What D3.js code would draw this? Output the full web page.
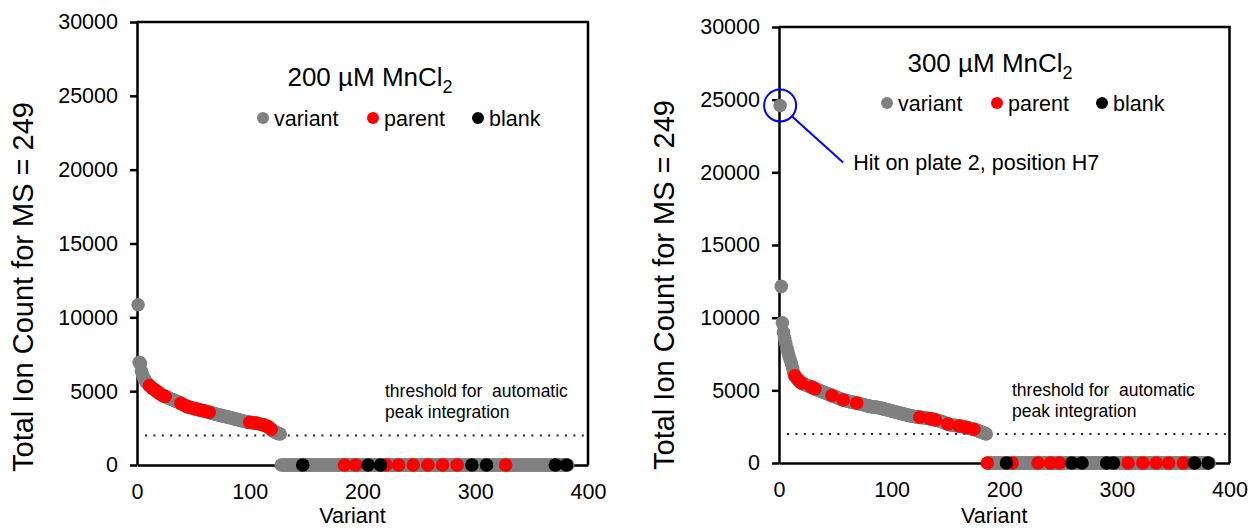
<!DOCTYPE html>
<html>
<head>
<meta charset="utf-8">
<script src="https://cdn.jsdelivr.net/npm/d3@7"></script>
<style>
  body { margin: 0; background: #fff; }
  svg text { font-family: "Liberation Sans", Arial, sans-serif; fill: #000; }
</style>
</head>
<body>
<svg id="chart" width="1252" height="529"></svg>
<script>
// ---- data ----
const variantTicks = [0, 100, 200, 300, 400];
const ionTicks = [0, 5000, 10000, 15000, 20000, 25000, 30000];
const threshold = 2000;
const legendItems = ["variant", "parent", "blank"];

// total ion count per variant (sorted, variant 1 first), 200 uM MnCl2
const signal200 = [
  10850, 6950, 6880, 6350, 6100, 5900, 5760, 5650, 5550, 5450,
  5380, 5310, 5240, 5180, 5130, 5080, 5020, 4960, 4900, 4850,
  4790, 4740, 4700, 4670, 4640, 4610, 4580, 4540, 4500, 4470,
  4440, 4410, 4380, 4340, 4310, 4280, 4250, 4210, 4170, 4130,
  4090, 4050, 4010, 3970, 3940, 3920, 3900, 3880, 3860, 3840,
  3820, 3800, 3780, 3760, 3740, 3720, 3700, 3690, 3670, 3650,
  3630, 3610, 3590, 3570, 3550, 3520, 3500, 3480, 3460, 3440,
  3420, 3400, 3380, 3360, 3340, 3320, 3310, 3290, 3270, 3260,
  3240, 3220, 3200, 3180, 3160, 3140, 3120, 3100, 3080, 3060,
  3040, 3020, 3000, 2980, 2960, 2940, 2920, 2910, 2900, 2890,
  2880, 2870, 2860, 2850, 2840, 2830, 2820, 2800, 2780, 2760,
  2740, 2720, 2700, 2670, 2640, 2600, 2550, 2490, 2420, 2350,
  2290, 2240, 2200, 2170, 2140, 2120, 2100,
  0,0,0,0,0, 0,0,0,0,0, 0,0,0,0,0, 0,0,0,0,0, 0,0,0,0,0,
  0,0,0,0,0, 0,0,0,0,0, 0,0,0,0,0, 0,0,0,0,0, 0,0,0,0,0,
  0,0,0,0,0, 0,0,0,0,0, 0,0,0,0,0, 0,0,0,0,0, 0,0,0,0,0,
  0,0,0,0,0, 0,0,0,0,0, 0,0,0,0,0, 0,0,0,0,0, 0,0,0,0,0,
  0,0,0,0,0, 0,0,0,0,0, 0,0,0,0,0, 0,0,0,0,0, 0,0,0,0,0,
  0,0,0,0,0, 0,0,0,0,0, 0,0,0,0,0, 0,0,0,0,0, 0,0,0,0,0,
  0,0,0,0,0, 0,0,0,0,0, 0,0,0,0,0, 0,0,0,0,0, 0,0,0,0,0,
  0,0,0,0,0, 0,0,0,0,0, 0,0,0,0,0, 0,0,0,0,0, 0,0,0,0,0,
  0,0,0,0,0, 0,0,0,0,0, 0,0,0,0,0, 0,0,0,0,0, 0,0,0,0,0,
  0,0,0,0,0, 0,0,0,0,0, 0,0,0,0,0, 0,0,0,0,0, 0,0,0,0,0,
  0,0,0,0,0
];
const parent200 = [11, 14, 17, 20, 23, 25, 39, 42, 45, 48, 52, 55, 58, 61, 64,
  100, 103, 106, 112, 116, 119, 184, 194, 221, 232, 245, 258, 271, 284, 327];
const blank200 = [147, 205, 216, 297, 310, 371, 381];

// 300 uM MnCl2
const signal300 = [
  24600, 12150, 9650, 9000, 8600, 8250, 7900, 7640, 7350, 7100,
  6850, 6550, 6250, 6000, 5900, 5800, 5720, 5640, 5570, 5500,
  5470, 5430, 5400, 5370, 5340, 5310, 5280, 5250, 5220, 5190,
  5150, 5110, 5070, 5040, 5010, 4980, 4950, 4920, 4890, 4860,
  4830, 4800, 4770, 4740, 4710, 4680, 4640, 4610, 4580, 4550,
  4520, 4490, 4460, 4430, 4400, 4370, 4340, 4320, 4300, 4280,
  4260, 4240, 4220, 4200, 4190, 4170, 4160, 4140, 4130, 4110,
  4090, 4070, 4050, 4030, 4010, 3990, 3970, 3950, 3930, 3910,
  3890, 3880, 3870, 3860, 3850, 3840, 3830, 3810, 3800, 3780,
  3760, 3740, 3720, 3700, 3680, 3660, 3640, 3620, 3600, 3580,
  3560, 3540, 3520, 3500, 3480, 3460, 3440, 3420, 3400, 3380,
  3360, 3340, 3320, 3300, 3280, 3260, 3250, 3230, 3220, 3200,
  3190, 3180, 3170, 3160, 3150, 3140, 3130, 3120, 3110, 3100,
  3090, 3080, 3060, 3050, 3030, 3020, 3000, 2980, 2960, 2940,
  2930, 2910, 2890, 2860, 2830, 2800, 2770, 2740, 2710, 2680,
  2660, 2640, 2620, 2610, 2600, 2590, 2580, 2570, 2560, 2550,
  2540, 2530, 2510, 2490, 2470, 2450, 2430, 2420, 2400, 2380,
  2360, 2340, 2320, 2300, 2270, 2240, 2210, 2180, 2150, 2120,
  2090, 2060, 2030, 2000,
  0,0,0,0,0, 0,0,0,0,0, 0,0,0,0,0, 0,0,0,0,0, 0,0,0,0,0,
  0,0,0,0,0, 0,0,0,0,0, 0,0,0,0,0, 0,0,0,0,0, 0,0,0,0,0,
  0,0,0,0,0, 0,0,0,0,0, 0,0,0,0,0, 0,0,0,0,0, 0,0,0,0,0,
  0,0,0,0,0, 0,0,0,0,0, 0,0,0,0,0, 0,0,0,0,0, 0,0,0,0,0,
  0,0,0,0,0, 0,0,0,0,0, 0,0,0,0,0, 0,0,0,0,0, 0,0,0,0,0,
  0,0,0,0,0, 0,0,0,0,0, 0,0,0,0,0, 0,0,0,0,0, 0,0,0,0,0,
  0,0,0,0,0, 0,0,0,0,0, 0,0,0,0,0, 0,0,0,0,0, 0,0,0,0,0,
  0,0,0,0,0, 0,0,0,0,0, 0,0,0,0,0, 0,0,0,0,0, 0,0,0
];
const parent300 = [14, 17, 20, 29, 32, 47, 57, 69, 125, 134, 139, 150, 160, 166, 173,
  185, 207, 230, 241, 249, 310, 323, 335, 346, 359];
const blank300 = [202, 260, 269, 291, 297, 369, 381];

const colors = { variant: "#808080", parent: "#ff0000", blank: "#000000" };

var svg = d3.select("#chart");

var panels = [
  { conc: "200", signal: signal200, parents: parent200, blanks: blank200,
    left: 137, right: 588, bottom: 465, top: 22,
    titleX: 370, titleY: 86, legendX: 263, legendY: 118,
    yTitleX: 33, yTitleY: 287, thrX: 385 },
  { conc: "300", signal: signal300, parents: parent300, blanks: blank300,
    left: 779, right: 1229.5, bottom: 463, top: 27,
    titleX: 990, titleY: 72, legendX: 887, legendY: 103,
    yTitleX: 674, yTitleY: 285, thrX: 1012, hit: { variant: 1, label: "Hit on plate 2, position H7" } }
];

panels.forEach(drawPanel);

function drawPanel(p) {
  var x = d3.scaleLinear().domain([0, 400]).range([p.left, p.right]);
  var y = d3.scaleLinear().domain([0, 30000]).range([p.bottom, p.top]);
  var g = svg.append("g");

  // frame: top and right edges
  g.append("path")
    .attr("d", "M" + x(0) + "," + y(30000) + "H" + x(400) + "V" + y(0))
    .attr("fill", "none")
    .attr("stroke", "#000")
    .attr("stroke-width", 2.5);

  // threshold line
  g.append("line")
    .attr("x1", x(0) + 8).attr("x2", x(400))
    .attr("y1", y(threshold)).attr("y2", y(threshold))
    .attr("stroke", "#222")
    .attr("stroke-width", 2)
    .attr("stroke-dasharray", "2,6.4");

  g.append("text")
    .attr("x", p.thrX).attr("y", y(threshold) - 38)
    .attr("xml:space", "preserve")
    .style("white-space", "pre")
    .style("font-size", "17.5px")
    .text("threshold for  automatic");
  g.append("text")
    .attr("x", p.thrX).attr("y", y(threshold) - 17)
    .style("font-size", "17.5px")
    .text("peak integration");

  // axes
  var yAxis = g.append("g")
    .attr("transform", "translate(" + x(0) + ",0)")
    .call(d3.axisLeft(y).tickValues(ionTicks).tickFormat(d3.format("d"))
      .tickSize(7).tickSizeOuter(0).tickPadding(12));
  yAxis.selectAll("text").style("font-size", "21.5px");

  var xAxis = g.append("g")
    .attr("transform", "translate(0," + y(0) + ")")
    .call(d3.axisBottom(x).tickValues(variantTicks).tickFormat(d3.format("d"))
      .tickSize(0).tickPadding(19));
  xAxis.selectAll("text").style("font-size", "21.5px");

  [yAxis, xAxis].forEach(function (a) {
    a.select(".domain").attr("stroke", "#000").attr("stroke-width", 2.5);
    a.selectAll(".tick line").attr("stroke", "#000").attr("stroke-width", 2.5);
  });

  // axis titles
  g.append("text")
    .attr("transform", "translate(" + p.yTitleX + "," + p.yTitleY + ") rotate(-90)")
    .style("text-anchor", "middle")
    .style("font-size", "29px")
    .text("Total Ion Count for MS = 249");

  g.append("text")
    .attr("x", (x(0) + x(400)) / 2 - 10)
    .attr("y", 523)
    .style("text-anchor", "middle")
    .style("font-size", "21.5px")
    .text("Variant");

  // points: variants first, then parents, then blanks on top
  var points = p.signal.map(function (v, i) {
    var n = i + 1;
    var kind = p.blanks.indexOf(n) >= 0 ? "blank" : (p.parents.indexOf(n) >= 0 ? "parent" : "variant");
    return { variant: n, value: v, kind: kind };
  });

  legendItems.forEach(function (kind) {
    g.append("g")
      .selectAll("circle")
      .data(points.filter(function (d) { return d.kind === kind; }))
      .enter()
      .append("circle")
      .attr("cx", function (d) { return x(d.variant); })
      .attr("cy", function (d) { return y(d.value); })
      .attr("r", 6.8)
      .attr("fill", colors[kind]);
  });

  // title
  var title = g.append("text")
    .attr("x", p.titleX).attr("y", p.titleY)
    .style("text-anchor", "middle")
    .style("font-size", "26px");
  title.append("tspan").text(p.conc + " \u00B5M MnCl");
  title.append("tspan").attr("dy", 7).style("font-size", "18px").text("2");

  // legend
  var legendOffsets = [0, 110, 215];
  legendItems.forEach(function (kind, i) {
    var lx = p.legendX + legendOffsets[i];
    g.append("circle")
      .attr("cx", lx).attr("cy", p.legendY)
      .attr("r", 6).attr("fill", colors[kind]);
    g.append("text")
      .attr("x", lx + 11).attr("y", p.legendY + 7.5)
      .style("font-size", "21.5px")
      .text(kind);
  });

  // hit annotation
  if (p.hit) {
    var hit = points[p.hit.variant - 1];
    var cx = x(hit.variant), cy = y(hit.value);
    g.append("circle")
      .attr("cx", cx).attr("cy", cy).attr("r", 16)
      .attr("fill", "none").attr("stroke", "#0000ff").attr("stroke-width", 2);
    g.append("line")
      .attr("x1", cx + 12).attr("y1", cy + 11)
      .attr("x2", cx + 63).attr("y2", cy + 57)
      .attr("stroke", "#0000ff").attr("stroke-width", 2);
    g.append("text")
      .attr("x", cx + 73).attr("y", cy + 65)
      .style("font-size", "21.5px")
      .text(p.hit.label);
  }
}
</script>
</body>
</html>
